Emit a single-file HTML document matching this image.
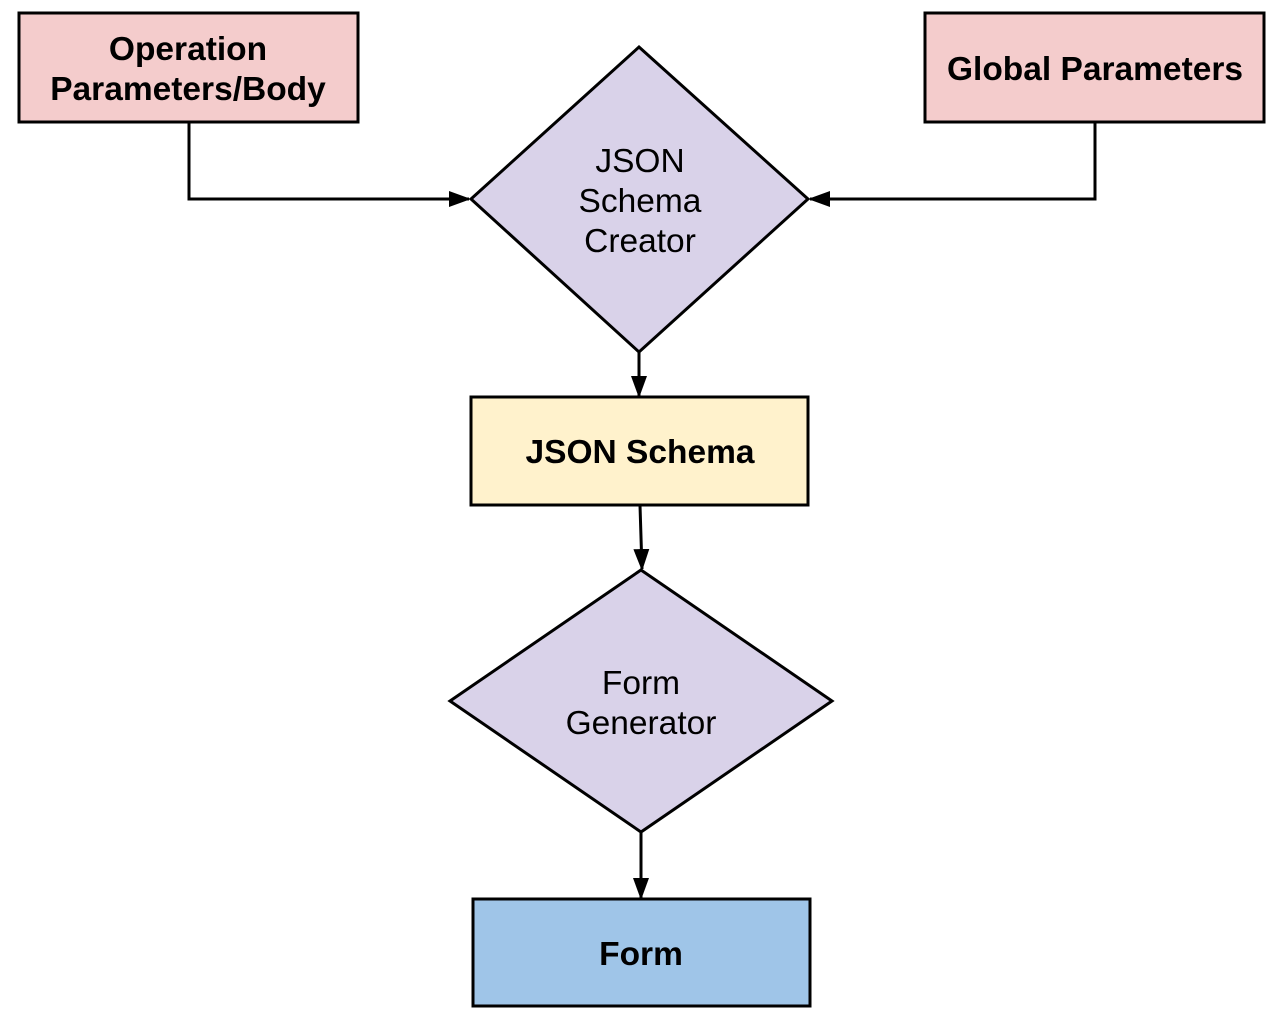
<!DOCTYPE html>
<html><head><meta charset="utf-8"><style>
html,body{margin:0;padding:0;background:#fff;width:1282px;height:1028px;overflow:hidden}
svg text{font-family:"Liberation Sans",Arial,sans-serif;fill:#000}
.b{font-weight:bold;font-size:33.5px}
.n{font-size:33.5px}
</style></head><body>
<svg width="1282" height="1028" viewBox="0 0 1282 1028" xmlns="http://www.w3.org/2000/svg">
<defs>
<marker id="ah" markerWidth="22" markerHeight="16" refX="20" refY="8" orient="auto" markerUnits="userSpaceOnUse" viewBox="0 0 22 16"><path d="M0,0 L22,8 L0,16 z" fill="#000"/></marker></defs>
<g stroke="#000" stroke-width="3" fill="none">
<polyline points="189,122 189,199 469,199" marker-end="url(#ah)"/>
<polyline points="1095,122 1095,199 810,199" marker-end="url(#ah)"/>
<line x1="639" y1="352" x2="639" y2="396" marker-end="url(#ah)"/>
<line x1="640" y1="505" x2="642" y2="569" marker-end="url(#ah)"/>
<line x1="641" y1="832" x2="641" y2="898" marker-end="url(#ah)"/>
</g>
<g stroke="#000" stroke-width="3">
<rect x="19" y="13" width="339" height="109" fill="#f4cccc"/>
<rect x="925" y="13" width="339" height="109" fill="#f4cccc"/>
<polygon points="639,47 808,199 639,352 471,199" fill="#d9d2e9"/>
<rect x="471" y="397" width="337" height="108" fill="#fff2cc"/>
<polygon points="641,570 832,701 641,832 450,701" fill="#d9d2e9"/>
<rect x="473" y="899" width="337" height="107" fill="#9fc5e8"/>
</g>
<text class="b" x="188" y="60" text-anchor="middle">Operation</text>
<text class="b" x="188" y="100" text-anchor="middle">Parameters/Body</text>
<text class="b" x="1095" y="80" text-anchor="middle">Global Parameters</text>
<text class="n" x="640" y="172" text-anchor="middle">JSON</text>
<text class="n" x="640" y="212" text-anchor="middle">Schema</text>
<text class="n" x="640" y="252" text-anchor="middle">Creator</text>
<text class="b" x="640" y="463" text-anchor="middle">JSON Schema</text>
<text class="n" x="641" y="694" text-anchor="middle">Form</text>
<text class="n" x="641" y="734" text-anchor="middle">Generator</text>
<text class="b" x="641" y="965" text-anchor="middle">Form</text>
</svg>
</body></html>
